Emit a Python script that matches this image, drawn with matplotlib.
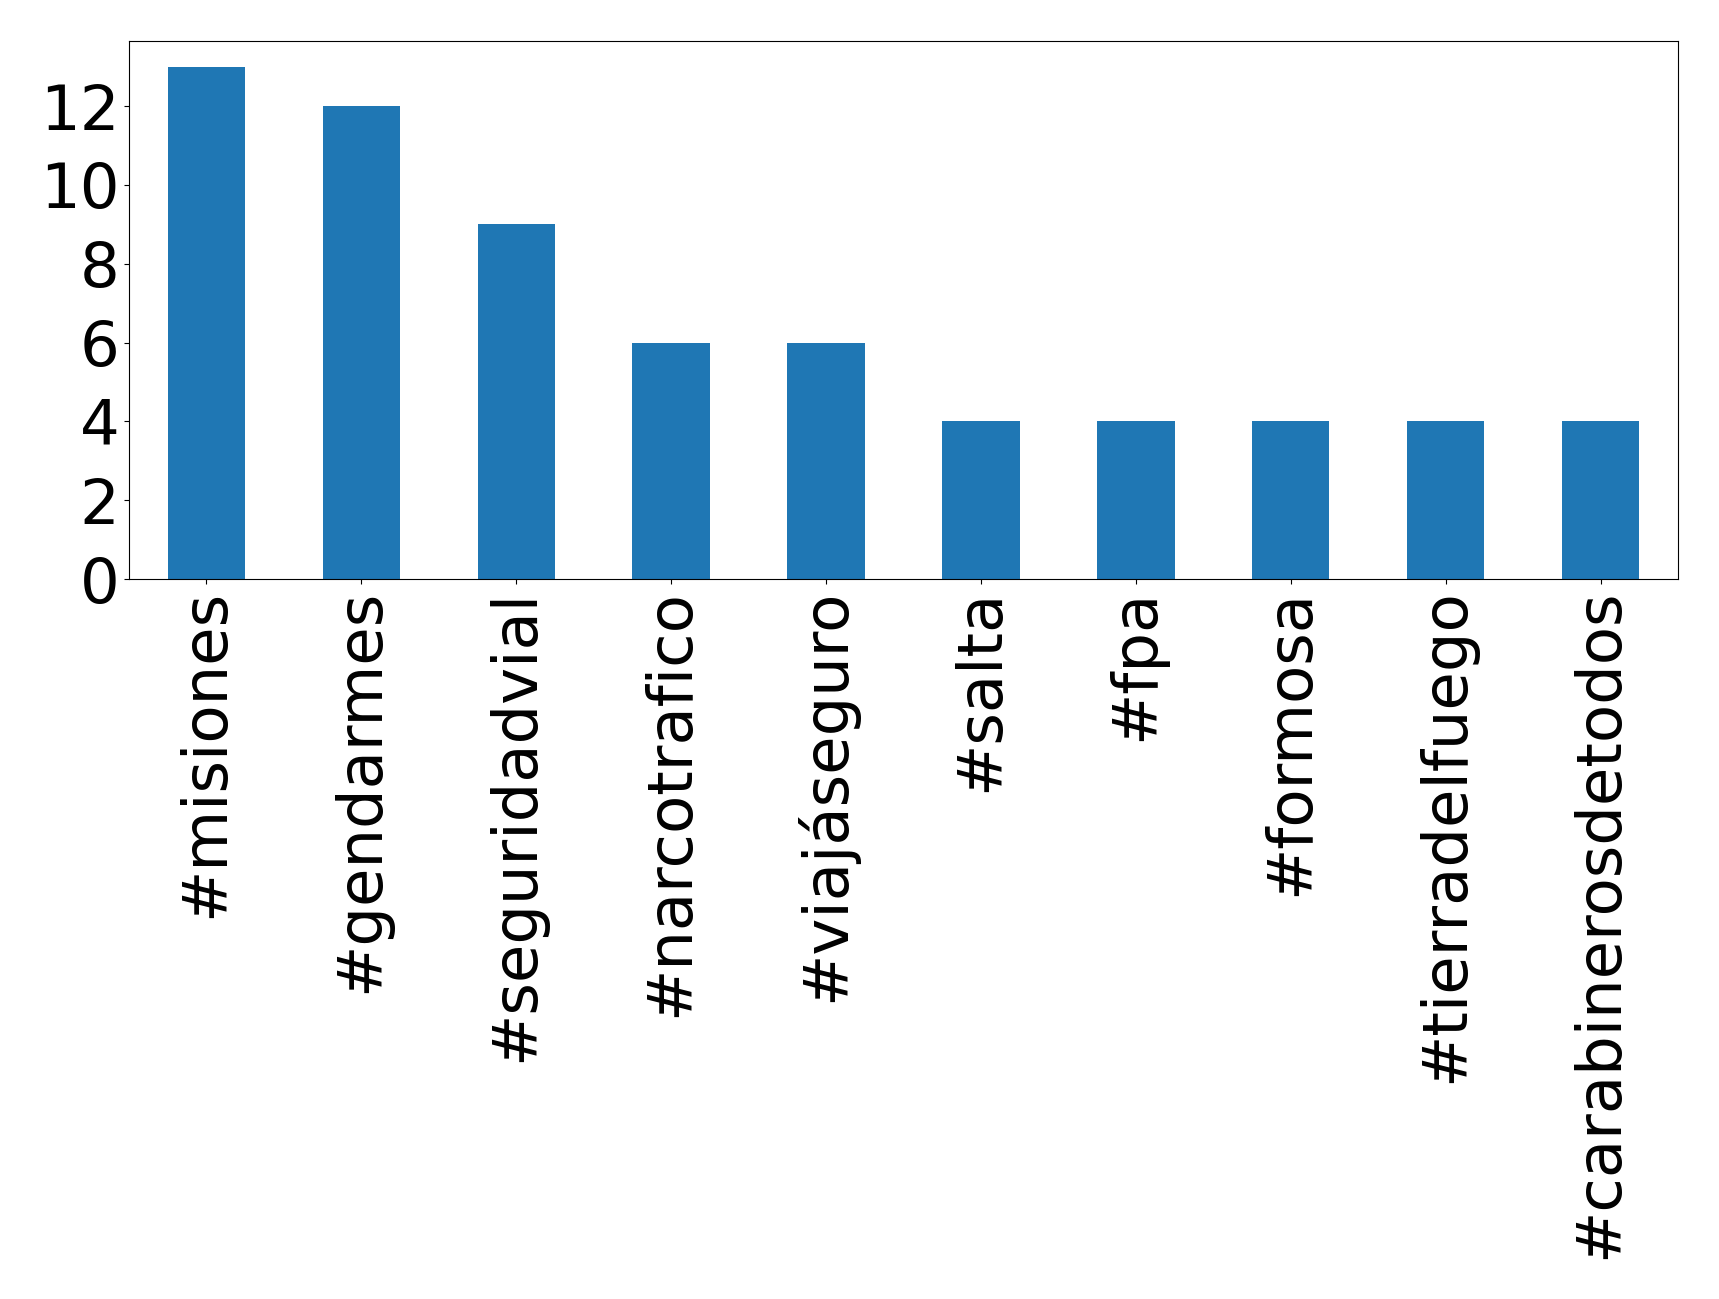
import matplotlib
matplotlib.use('Agg')
import matplotlib.pyplot as plt
import numpy as np

hashtags = ['#misiones', '#gendarmes', '#seguridadvial', '#narcotrafico', '#viajáseguro',
            '#salta', '#fpa', '#formosa', '#tierradelfuego', '#carabinerosdetodos']
counts = [13, 12, 9, 6, 6, 4, 4, 4, 4, 4]

fig = plt.figure(figsize=(17.19, 12.99), dpi=100)
W, H = 1719, 1299
ax = fig.add_axes([129 / W, 1 - 579 / H, 1549 / W, 538 / H])

x = np.arange(len(hashtags))
ax.bar(x, counts, width=0.5, color='#1f77b4')
ax.set_xlim(-0.5, len(hashtags) - 0.5)
ax.set_ylim(0, max(counts) * 1.05)
ax.set_xticks(x)
ax.set_xticklabels(hashtags, rotation=90)
ax.set_yticks([0, 2, 4, 6, 8, 10, 12])
ax.tick_params(axis='both', labelsize=45)

fig.savefig('out.png', dpi=100)
